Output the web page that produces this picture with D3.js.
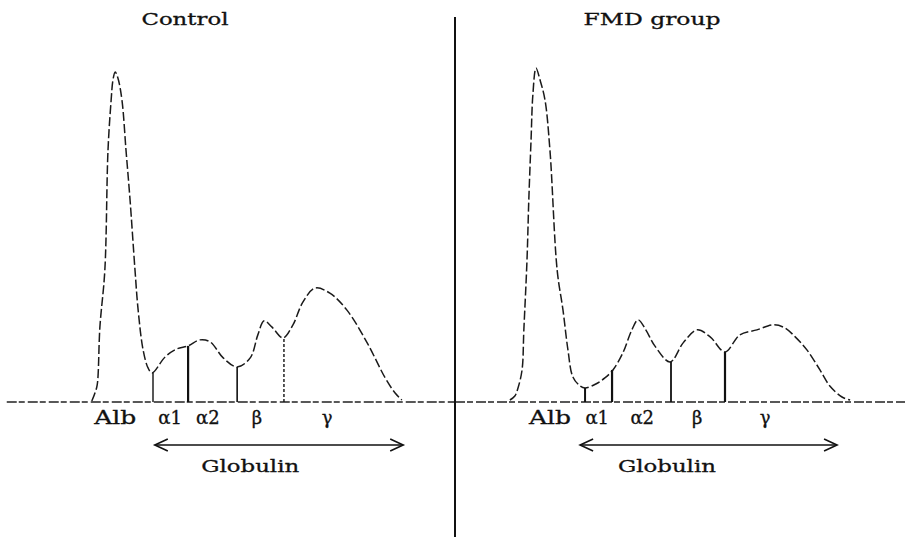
<!DOCTYPE html>
<html>
  <head>
    <meta charset="utf-8" />
    <title>Serum protein electrophoresis - Control vs FMD group</title>
    <style>
      body {
        margin: 0;
        background: #fff;
      }
      svg {
        display: block;
      }
      text {
        font-family: "DejaVu Serif", "Liberation Serif", serif;
        fill: #111;
        stroke: #111;
        stroke-width: 0.3;
      }
      .curve {
        fill: none;
        stroke: #1a1a1a;
        stroke-width: 1.5;
        stroke-dasharray: 9, 3;
      }
      .baseline {
        stroke: #222;
        stroke-width: 1.4;
        stroke-dasharray: 10, 2, 6, 3;
      }
      .cut {
        stroke: #111;
      }
      .arrow {
        fill: none;
        stroke: #111;
        stroke-width: 1.6;
      }
    </style>
    <script src="https://d3js.org/d3.v7.min.js" charset="utf-8"></script>
  </head>
  <body>
    <script>
      // densitometer trace, [relative mobility, relative density]
      const controlCurve = [
        [20.4, 0.3], [21.1, 2.7], [21.6, 5.1], [22.2, 22.5], [23.3, 39.5],
        [24.0, 75.4], [24.7, 90.4], [25.1, 96.4], [25.6, 98.8], [26.2, 97.0],
        [27.1, 90.4], [28.0, 75.4], [28.9, 60.5], [30.0, 39.5], [30.7, 27.5],
        [31.8, 15.6], [32.9, 10.2], [33.8, 8.7], [36.7, 13.5], [39.3, 15.9],
        [41.8, 16.8], [44.4, 18.6], [46.7, 18.0], [49.6, 13.2], [52.7, 10.5],
        [55.6, 13.2], [57.3, 20.1], [58.7, 24.3], [60.4, 22.5], [62.9, 19.2],
        [65.1, 23.1], [67.3, 29.9], [70.0, 34.1], [73.3, 32.6], [77.1, 27.5],
        [81.6, 17.7], [85.6, 7.2], [87.8, 2.7], [89.3, 0.6]
      ];
      const fmdCurve = [
        [12.2, 0.6], [13.3, 1.8], [14.0, 4.2], [14.9, 9.6], [15.3, 21.6],
        [16.0, 42.5], [16.4, 60.5], [16.9, 78.4], [17.3, 91.9], [18.0, 100],
        [18.9, 96.4], [20.0, 90.4], [21.1, 75.4], [22.7, 39.5], [24.0, 27.5],
        [25.1, 15.6], [26.2, 7.5], [27.8, 4.8], [28.9, 4.2], [31.3, 5.4],
        [33.3, 7.2], [35.1, 9.6], [37.3, 14.7], [39.3, 21.6], [40.7, 24.6],
        [42.4, 21.6], [44.4, 16.8], [47.8, 12.0], [50.7, 17.7], [53.8, 21.6],
        [56.7, 19.5], [60.0, 15.0], [63.3, 20.1], [67.1, 21.6], [70.7, 23.1],
        [73.3, 22.2], [75.6, 19.5], [78.2, 15.6], [81.1, 9.6], [83.3, 4.8],
        [86.0, 1.5], [87.8, 0.6]
      ];

      const fractions = ["Alb", "α1", "α2", "β", "γ"];
      const controlLabelPos = [25.6, 37.8, 46.2, 57.1, 72.7];
      const fmdLabelPos = [21.1, 31.6, 41.6, 53.8, 68.9];

      // fraction boundaries: position and trace height at that point
      const controlCuts = [34.0, 41.8, 52.7, 63.1];
      const controlCutHeights = [8.7, 16.8, 10.5, 19.2];
      const fmdCuts = [28.9, 34.9, 48.0, 60.0];
      const fmdCutHeights = [4.2, 9.6, 12.0, 15.0];

      // globulin arrow span and label position
      const controlGlobulin = [34.4, 89.6, 55.6];
      const fmdGlobulin = [27.8, 84.9, 47.1];

      const width = 911,
        height = 537;

      const svg = d3
        .select("body")
        .append("svg")
        .attr("width", width)
        .attr("height", height);

      const y = d3.scaleLinear().domain([0, 100]).range([402, 68]);

      const panels = [
        {
          title: "Control",
          titleX: 41.1,
          titleLen: 87,
          range: [0, 450],
          base: [1.5, 101],
          curve: controlCurve,
          labels: controlLabelPos,
          cuts: controlCuts,
          cutHeights: controlCutHeights,
          cutStyle: [
            { w: 1.4, dash: null },
            { w: 2.2, dash: null },
            { w: 1.6, dash: null },
            { w: 1.4, dash: "3,2" },
          ],
          globulin: controlGlobulin,
        },
        {
          title: "FMD group",
          titleX: 43.8,
          titleLen: 137,
          range: [455, 905],
          base: [0, 100],
          curve: fmdCurve,
          labels: fmdLabelPos,
          cuts: fmdCuts,
          cutHeights: fmdCutHeights,
          cutStyle: [
            { w: 2, dash: null },
            { w: 2.2, dash: null },
            { w: 1.8, dash: null },
            { w: 2.2, dash: null },
          ],
          globulin: fmdGlobulin,
        },
      ];

      const line = d3
        .line()
        .x((d) => d.x)
        .y((d) => d.y)
        .curve(d3.curveCatmullRom.alpha(0.5));

      panels.forEach(function (p) {
        const x = d3.scaleLinear().domain([0, 100]).range(p.range);
        const g = svg.append("g");

        // title
        g.append("text")
          .attr("x", x(p.titleX))
          .attr("y", 25)
          .attr("text-anchor", "middle")
          .attr("font-size", 17)
          .attr("textLength", p.titleLen)
          .attr("lengthAdjust", "spacingAndGlyphs")
          .text(p.title);

        // baseline
        g.append("line")
          .attr("class", "baseline")
          .attr("x1", x(p.base[0]))
          .attr("x2", x(p.base[1]))
          .attr("y1", y(0))
          .attr("y2", y(0));

        // trace
        g.append("path")
          .attr("class", "curve")
          .attr(
            "d",
            line(p.curve.map((d) => ({ x: x(d[0]), y: y(d[1]) })))
          );

        // fraction boundaries
        g.selectAll(".cut")
          .data(p.cuts)
          .join("line")
          .attr("class", "cut")
          .attr("x1", (d) => x(d))
          .attr("x2", (d) => x(d))
          .attr("y1", y(0))
          .attr("y2", (d, i) => y(p.cutHeights[i]))
          .attr("stroke-width", (d, i) => p.cutStyle[i].w)
          .attr("stroke-dasharray", (d, i) => p.cutStyle[i].dash);

        // fraction labels
        g.selectAll(".frac")
          .data(fractions)
          .join("text")
          .attr("class", "frac")
          .attr("x", (d, i) => x(p.labels[i]))
          .attr("y", 424)
          .attr("text-anchor", "middle")
          .attr("font-size", 18)
          .attr("textLength", (d) => (d === "Alb" ? 42 : null))
          .attr("lengthAdjust", "spacingAndGlyphs")
          .text((d) => d);

        // globulin arrow
        const x1 = x(p.globulin[0]),
          x2 = x(p.globulin[1]),
          ay = 445;
        g.append("line")
          .attr("class", "arrow")
          .attr("x1", x1)
          .attr("x2", x2)
          .attr("y1", ay)
          .attr("y2", ay);
        g.append("path")
          .attr("class", "arrow")
          .attr(
            "d",
            "M" + (x1 + 13) + "," + (ay - 6) + "L" + x1 + "," + ay + "L" + (x1 + 13) + "," + (ay + 6)
          );
        g.append("path")
          .attr("class", "arrow")
          .attr(
            "d",
            "M" + (x2 - 13) + "," + (ay - 6) + "L" + x2 + "," + ay + "L" + (x2 - 13) + "," + (ay + 6)
          );

        g.append("text")
          .attr("x", x(p.globulin[2]))
          .attr("y", 472)
          .attr("text-anchor", "middle")
          .attr("font-size", 17)
          .attr("textLength", 98)
          .attr("lengthAdjust", "spacingAndGlyphs")
          .text("Globulin");
      });

      // divider between the two panels
      svg
        .append("line")
        .attr("x1", 455)
        .attr("x2", 455)
        .attr("y1", 17)
        .attr("y2", height)
        .attr("stroke", "#111")
        .attr("stroke-width", 2);
    </script>
  </body>
</html>
